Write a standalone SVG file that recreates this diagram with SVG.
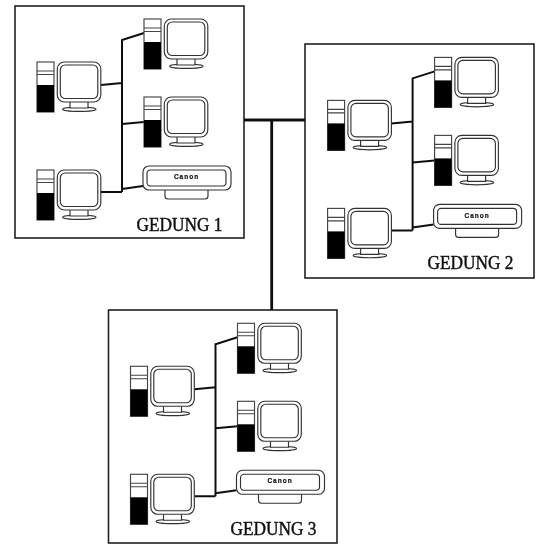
<svg xmlns="http://www.w3.org/2000/svg" xmlns:xlink="http://www.w3.org/1999/xlink" width="537" height="544" viewBox="0 0 537 544">
<style>
.box{fill:#fff;stroke:#222;stroke-width:1.6}
.ln{fill:#fff;stroke:#333;stroke-width:1.15}
.tw{fill:#fff;stroke:#444;stroke-width:1.15}
.blk{fill:#000}
.wire{fill:none;stroke:#111;stroke-width:2}
.trunk{fill:none;stroke:#111;stroke-width:2.8}
.cap{font-family:"Liberation Serif",serif;font-size:18.5px;fill:#111;stroke:#111;stroke-width:.45}
.brand{font-family:"Liberation Sans",sans-serif;font-size:6.5px;font-weight:bold;letter-spacing:1px;fill:#111;stroke:#111;stroke-width:.2;text-anchor:middle}
</style>
<defs>
<filter id="soft" x="-5%" y="-5%" width="110%" height="110%"><feGaussianBlur stdDeviation="0.35"/></filter>
<g id="pc">
<rect class="tw" x="0" y="0" width="17" height="50"/>
<path class="tw" d="M0 9H17M0 12.5H17"/>
<rect class="blk" x="0" y="23" width="17" height="27"/>
<ellipse class="ln" cx="42.3" cy="47.2" rx="16.7" ry="2.2"/>
<path class="ln" d="M33 40V46H51V40"/>
<rect class="ln" x="20.3" y="0" width="43.5" height="40" rx="7"/>
<rect class="ln" x="23.3" y="3" width="37.5" height="33.5" rx="5"/>
</g>
<g id="printer">
<rect class="ln" x="22" y="20" width="43" height="13" rx="3"/>
<rect class="ln" x="0" y="0" width="88" height="24" rx="6"/>
<rect class="ln" x="4" y="4" width="79" height="16" rx="3.5"/>
<text class="brand" x="43.5" y="13.2">Canon</text>
</g>
</defs>
<rect width="537" height="544" fill="#fff"/>
<g filter="url(#soft)">
<g id="gedung-1-box"><rect class="box" x="15" y="6" width="229" height="232"/></g>
<g id="gedung-2-box"><rect class="box" x="305" y="44" width="229" height="234"/></g>
<g id="gedung-3-box"><rect class="box" x="108.5" y="310" width="228.5" height="233"/></g>
<g id="connectors">
<path class="trunk" d="M244 120H305M271.7 120V310"/>
<path id="w1" class="wire" d="M144 33L122 40V192M101 85L122 83M122 124L144 122M101 192H122M122 189L143 186"/>
<path class="wire" d="M434.6 71.4L412.6 78.4V230.4M391.6 123.4L412.6 121.4M412.6 162.4L434.6 160.4M391.6 230.4H412.6M412.6 227.4L433.6 224.4"/>
<path class="wire" d="M237.5 337.3L215.5 344.3V496.3M194.5 389.3L215.5 387.3M215.5 428.3L237.5 426.3M194.5 496.3H215.5M215.5 493.3L236.5 490.3"/>
</g>
<g id="g1-pc1"><use xlink:href="#pc" href="#pc" x="37" y="62"/></g>
<g id="g1-pc2"><use xlink:href="#pc" href="#pc" x="144" y="19"/></g>
<g id="g1-pc3"><use xlink:href="#pc" href="#pc" x="144" y="97"/></g>
<g id="g1-pc4"><use xlink:href="#pc" href="#pc" x="37" y="170"/></g>
<g id="g1-printer"><use xlink:href="#printer" href="#printer" x="143" y="166"/></g>
<g id="g2-pc1"><use xlink:href="#pc" href="#pc" x="327.6" y="100.4"/></g>
<g id="g2-pc2"><use xlink:href="#pc" href="#pc" x="434.6" y="57.4"/></g>
<g id="g2-pc3"><use xlink:href="#pc" href="#pc" x="434.6" y="135.4"/></g>
<g id="g2-pc4"><use xlink:href="#pc" href="#pc" x="327.6" y="208.4"/></g>
<g id="g2-printer"><use xlink:href="#printer" href="#printer" x="433.6" y="204.4"/></g>
<g id="g3-pc1"><use xlink:href="#pc" href="#pc" x="130.5" y="366.3"/></g>
<g id="g3-pc2"><use xlink:href="#pc" href="#pc" x="237.5" y="323.3"/></g>
<g id="g3-pc3"><use xlink:href="#pc" href="#pc" x="237.5" y="401.3"/></g>
<g id="g3-pc4"><use xlink:href="#pc" href="#pc" x="130.5" y="474.3"/></g>
<g id="g3-printer"><use xlink:href="#printer" href="#printer" x="236.5" y="470.3"/></g>
<g id="labels">
<text class="cap" x="136.5" y="231" textLength="86" lengthAdjust="spacingAndGlyphs">GEDUNG 1</text>
<text class="cap" x="427.5" y="269" textLength="86" lengthAdjust="spacingAndGlyphs">GEDUNG 2</text>
<text class="cap" x="230.5" y="535" textLength="86" lengthAdjust="spacingAndGlyphs">GEDUNG 3</text>
</g>
</g>
</svg>
